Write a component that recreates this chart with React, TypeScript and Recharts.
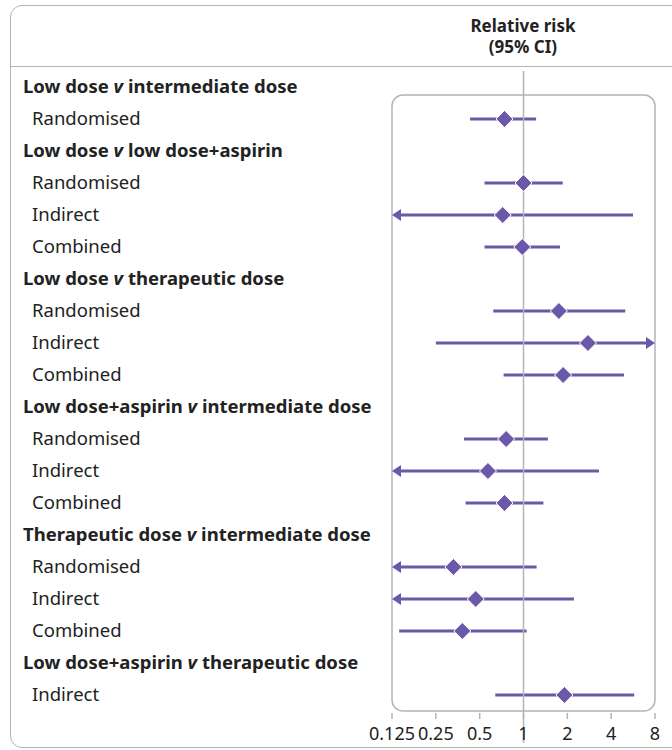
import { Bar, ComposedChart, ReferenceArea, ReferenceLine, Scatter, XAxis, YAxis } from "recharts";

// rows top to bottom; headers have no estimate
const labels = [
    "Low dose v intermediate dose",
    "Randomised",
    "Low dose v low dose+aspirin",
    "Randomised",
    "Indirect",
    "Combined",
    "Low dose v therapeutic dose",
    "Randomised",
    "Indirect",
    "Combined",
    "Low dose+aspirin v intermediate dose",
    "Randomised",
    "Indirect",
    "Combined",
    "Therapeutic dose v intermediate dose",
    "Randomised",
    "Indirect",
    "Combined",
    "Low dose+aspirin v therapeutic dose",
    "Indirect",
];
const isHeader = [true, false, true, false, false, false, true, false, false, false, true, false, false, false, true, false, false, false, true, false];

const rr = [null, 0.74, null, 1.0, 0.72, 0.98, null, 1.75, 2.77, 1.87, null, 0.76, 0.57, 0.74, null, 0.33, 0.47, 0.38, null, 1.91];
const lower = [null, 0.43, null, 0.54, 0.08, 0.54, null, 0.62, 0.25, 0.73, null, 0.39, 0.1, 0.4, null, 0.09, 0.1, 0.14, null, 0.64];
const upper = [null, 1.22, null, 1.86, 5.65, 1.78, null, 5.0, 11, 4.9, null, 1.47, 3.3, 1.37, null, 1.23, 2.22, 1.05, null, 5.76];

const ticks = [0.125, 0.25, 0.5, 1, 2, 4, 8];
const MIN = 0.125;
const MAX = 8;

const PURPLE = "#6a59a8";
const GREY = "#b4b4b4";
const INK = "#222";
const FONT = "'Noto Sans', sans-serif";

const data = labels.map((label, i) => ({
    key: String(i),
    label,
    rr: rr[i],
    range: lower[i] == null ? null : [Math.max(lower[i], MIN), Math.min(upper[i], MAX)],
    leftArrow: lower[i] != null && lower[i] < MIN,
    rightArrow: upper[i] != null && upper[i] > MAX,
}));

const CiLine = (props) => {
    const { x, y, width, height, payload } = props;
    if (!payload || payload.range == null) return null;
    const cy = y + height / 2;
    const x2 = x + width;
    return (
        <g>
            <line x1={x + (payload.leftArrow ? 6 : 0)} x2={x2 - (payload.rightArrow ? 6 : 0)} y1={cy} y2={cy} stroke={PURPLE} strokeWidth={3} />
            {payload.leftArrow && <polygon points={`${x},${cy} ${x + 9},${cy - 6} ${x + 9},${cy + 6}`} fill={PURPLE} />}
            {payload.rightArrow && <polygon points={`${x2},${cy} ${x2 - 9},${cy - 6} ${x2 - 9},${cy + 6}`} fill={PURPLE} />}
        </g>
    );
};

const Diamond = (props) => {
    const { cx, cy, payload } = props;
    if (!payload || payload.rr == null || cx == null) return null;
    const r = 8.5;
    return (
        <polygon
            points={`${cx},${cy - r} ${cx + r},${cy} ${cx},${cy + r} ${cx - r},${cy}`}
            fill={PURPLE}
            stroke="#fff"
            strokeWidth={1}
        />
    );
};

const RowTick = (props) => {
    const { y, payload } = props;
    const i = Number(payload.value);
    const text = labels[i];
    if (isHeader[i]) {
        const [a, b] = text.split(" v ");
        return (
            <text x={23} y={y} dy={6} fontFamily={FONT} fontSize={18.5} fontWeight={700} fill={INK}>
                {a} <tspan fontStyle="italic">v</tspan> {b}
            </text>
        );
    }
    return (
        <text x={32} y={y} dy={6} fontFamily={FONT} fontSize={18.5} fill={INK}>
            {text}
        </text>
    );
};

const PlotBox = (props) => {
    const { x, y, width, height } = props;
    return <rect x={x} y={y + 24} width={width} height={height - 24} rx={11} fill="none" stroke={GREY} strokeWidth={1.5} />;
};

const OneLine = (props) => {
    const { x1, y1, x2, y2 } = props;
    return <line x1={x1} x2={x2} y1={y1 + 24} y2={y2} stroke={GREY} strokeWidth={1.5} />;
};

const headStyle = {
    position: "absolute" as const,
    left: 423,
    width: 200,
    textAlign: "center" as const,
    fontFamily: FONT,
    fontWeight: 700,
    fontSize: 17,
    lineHeight: "20px",
    color: INK,
};

const App = () => {
    return (
        <div style={{ position: "absolute", left: 0, top: 0, width: 672, height: 750, background: "#fff", overflow: "hidden" }}>
            <div
                style={{
                    position: "absolute",
                    left: 10,
                    top: 5,
                    width: 700,
                    height: 743,
                    border: `1.5px solid ${GREY}`,
                    borderRadius: 12,
                    boxSizing: "border-box",
                }}
            />
            <div style={{ position: "absolute", left: 10, top: 66, width: 680, borderTop: `1.5px solid ${GREY}` }} />
            <div style={{ ...headStyle, top: 16 }}>Relative risk</div>
            <div style={{ ...headStyle, top: 37 }}>(95% CI)</div>
            <div style={{ position: "absolute", left: 0, top: 0 }}>
                <ComposedChart
                    width={672}
                    height={750}
                    data={data}
                    layout="vertical"
                    margin={{ top: 71, right: 17, bottom: 1, left: 0 }}
                >
                    <ReferenceArea x1={MIN} x2={MAX} shape={PlotBox} ifOverflow="visible" />
                    <ReferenceLine x={1} shape={OneLine} />
                    <XAxis
                        type="number"
                        dataKey="rr"
                        scale="log"
                        domain={[MIN, MAX]}
                        ticks={ticks}
                        allowDataOverflow
                        height={30}
                        axisLine={false}
                        tickLine={{ stroke: GREY, strokeWidth: 1.5 }}
                        tickSize={-6}
                        tickMargin={14}
                        interval={0}
                        tick={{ fontFamily: FONT, fontSize: 18, fill: INK }}
                    />
                    <YAxis
                        type="category"
                        dataKey="key"
                        width={392}
                        axisLine={false}
                        tickLine={false}
                        interval={0}
                        padding={{ top: 0, bottom: 8 }}
                        tick={RowTick}
                    />
                    <Bar dataKey="range" shape={CiLine} isAnimationActive={false} barSize={10} />
                    <Scatter dataKey="rr" shape={Diamond} isAnimationActive={false} />
                </ComposedChart>
            </div>
        </div>
    );
};

export default App;
